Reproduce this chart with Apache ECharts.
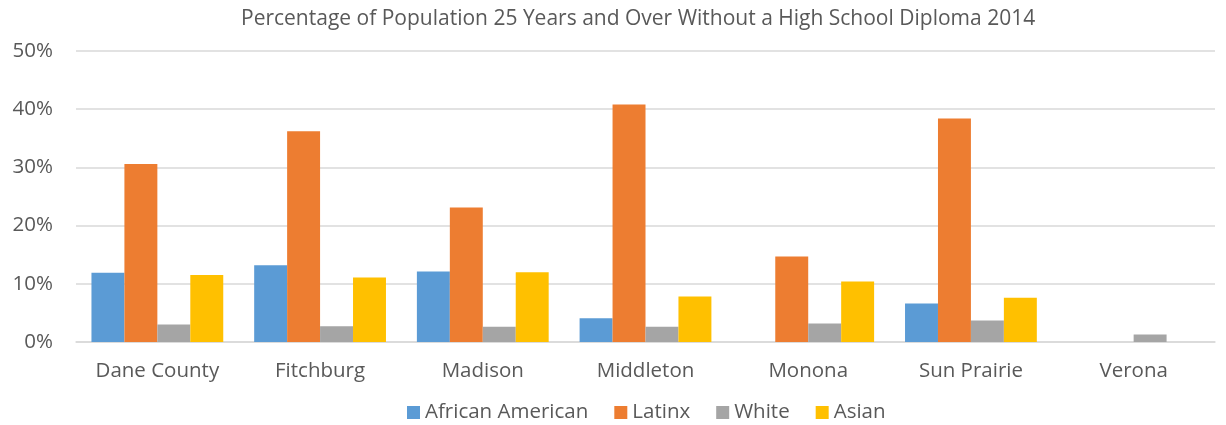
<!DOCTYPE html>
<html>
<head>
<meta charset="utf-8">
<script src="https://cdn.jsdelivr.net/npm/echarts@6/dist/echarts.min.js"></script>
<style>
  html, body { margin: 0; padding: 0; background: #fff; }
  #chart { width: 1226px; height: 425px; }
</style>
</head>
<body>
<div id="chart"></div>
<script>
// Share of adults 25+ without a high school diploma, 2014 (percent)
const places = ['Dane County', 'Fitchburg', 'Madison', 'Middleton', 'Monona', 'Sun Prairie', 'Verona'];
const africanAmerican = [11.9, 13.2, 12.1, 4.1, null, 6.6, null];
const latinx = [30.6, 36.2, 23.1, 40.8, 14.7, 38.4, null];
const white = [3.0, 2.7, 2.6, 2.6, 3.2, 3.7, 1.3];
const asian = [11.5, 11.1, 12.0, 7.8, 10.4, 7.6, null];
const seriesNames = ['African American', 'Latinx', 'White', 'Asian'];
const seriesColors = ['#5B9BD5', '#ED7D31', '#A5A5A5', '#FFC000'];

const font = '"Open Sans", "Noto Sans", sans-serif';
const chart = echarts.init(document.getElementById('chart'), null, { renderer: 'canvas' });

const values = [africanAmerican, latinx, white, asian];
chart.setOption({
  animation: false,
  textStyle: { fontFamily: font },
  title: {
    text: 'Percentage of Population 25 Years and Over Without a High School Diploma 2014',
    left: 236,
    top: 4,
    textStyle: { fontFamily: font, fontSize: 21, fontWeight: 'normal', color: '#595959' }
  },
  legend: {
    bottom: -3,
    left: 402,
    itemWidth: 13,
    itemHeight: 13,
    itemGap: 26,
    icon: 'rect',
    textStyle: { fontFamily: font, fontSize: 20.5, color: '#595959' },
    data: seriesNames
  },
  grid: { left: 76, right: 11, top: 51, bottom: 83, containLabel: false },
  xAxis: {
    type: 'category',
    data: places,
    axisLine: { show: true, lineStyle: { color: '#D9D9D9', width: 1.5 } },
    axisTick: { show: false },
    axisLabel: { fontFamily: font, fontSize: 20.5, color: '#595959', margin: 19 }
  },
  yAxis: {
    type: 'value',
    min: 0,
    max: 50,
    interval: 10,
    axisLine: { show: false },
    axisTick: { show: false },
    splitLine: { lineStyle: { color: '#D9D9D9', width: 1.5 } },
    axisLabel: { fontFamily: font, fontSize: 20.5, color: '#595959', margin: 23, formatter: '{value}%' }
  },
  series: seriesNames.map((name, i) => ({
    name,
    type: 'bar',
    data: values[i],
    barGap: '0%',
    barCategoryGap: '19%',
    itemStyle: { color: seriesColors[i] }
  }))
});
</script>
</body>
</html>
